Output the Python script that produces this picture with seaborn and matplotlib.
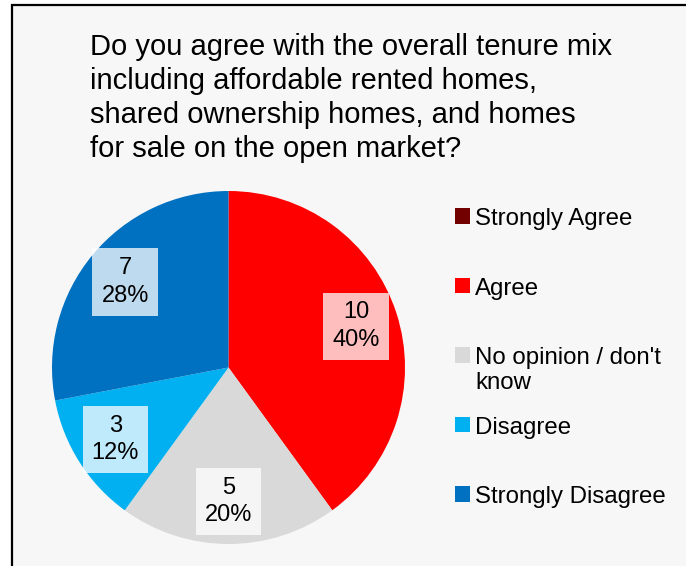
import textwrap

import matplotlib
matplotlib.use("Agg")
import matplotlib.pyplot as plt
from matplotlib.patches import Rectangle
import seaborn as sns

# Survey responses
question = ("Do you agree with the overall tenure mix\n"
            "including affordable rented homes,\n"
            "shared ownership homes, and homes\n"
            "for sale on the open market?")
categories = ["Strongly Agree", "Agree", "No opinion / don't know",
              "Disagree", "Strongly Disagree"]
counts = [0, 10, 5, 3, 7]
colors = ["#730000", "#FF0000", "#D9D9D9", "#00B0F0", "#0070C0"]

sns.set_theme(style="white")
plt.rcParams["font.family"] = ["Liberation Sans", "DejaVu Sans"]
plt.rcParams["text.color"] = "black"

W, H = 686, 566
fig = plt.figure(figsize=(W / 100, H / 100), dpi=100, facecolor="white")

# Panel background with a dark frame along the top and left edges
fig.patches.append(Rectangle((12 / W, -0.1), 1.2, 1.1 - 4.5 / H,
                             transform=fig.transFigure, facecolor="#F7F7F7",
                             edgecolor="black", linewidth=1.6, zorder=-10))

fig.text(90 / W, 1 - 33 / H, question, ha="left", va="top",
         fontsize=21.0, color="black", linespacing=1.28)

total = sum(counts)


def fmt(pct):
    n = int(round(pct * total / 100))
    if n == 0:
        return ""
    return f"{n}\n{pct:.0f}%"


palette = sns.color_palette(colors)
ax = fig.add_axes([52 / W, 22 / H, 353 / W, 353 / H])
wedges, _, autotexts = ax.pie(
    counts, colors=palette, startangle=90, counterclock=False,
    autopct=fmt, pctdistance=0.76, radius=1,
    wedgeprops=dict(linewidth=0),
    textprops=dict(fontsize=17, color="black", linespacing=1.3),
)
for t in autotexts:
    t.set_bbox(dict(boxstyle="square,pad=0.38", facecolor="white",
                    alpha=0.75, edgecolor="none"))
ax.set_xlim(-1, 1)
ax.set_ylim(-1, 1)
ax.set_aspect("equal")
ax.axis("off")

legend_labels = [textwrap.fill(c, 18) for c in categories]
leg = fig.legend(wedges, legend_labels, loc="upper left",
                 bbox_to_anchor=(455 / W, 1 - 208 / H),
                 frameon=False, fontsize=17.3, handlelength=0.64,
                 handleheight=0.64, handletextpad=0.2, labelspacing=0.92,
                 borderpad=0, borderaxespad=0, labelcolor="black")
for t in leg.get_texts():
    t.set_linespacing(1.2)
# Evenly spaced entries, with swatches aligned to the first text line
column = leg._legend_handle_box.get_children()[0]
column.mode = "equal"
for row in column.get_children():
    row.align = "top"

fig.savefig("out.png", dpi=100, facecolor=fig.get_facecolor())
